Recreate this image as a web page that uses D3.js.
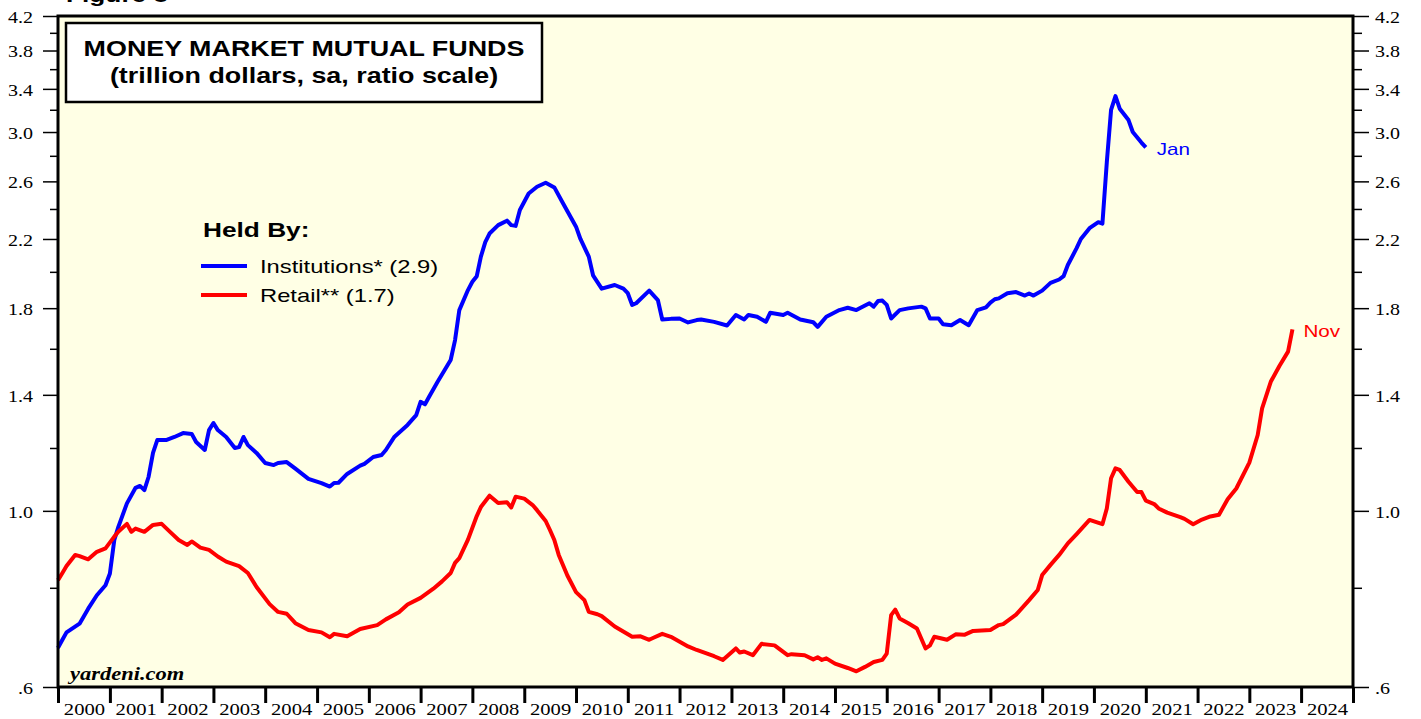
<!DOCTYPE html>
<html>
<head>
<meta charset="utf-8">
<script src="https://cdn.jsdelivr.net/npm/d3@7"></script>
<style>
  body { margin: 0; background: #fff; }
  svg { display: block; }
</style>
</head>
<body>
<svg id="chart" width="1421" height="719"></svg>
<script>
// ---- data (trillion dollars) ----
const instDates = ["2000-01","2000-02","2000-03","2000-06","2000-08","2000-10","2000-12","2001-01","2001-02","2001-03","2001-05","2001-07","2001-08","2001-09","2001-10","2001-11","2001-12",
  "2002-02","2002-04","2002-06","2002-08","2002-09","2002-11","2002-12","2003-01","2003-02","2003-04","2003-06","2003-07","2003-08","2003-09","2003-11",
  "2004-01","2004-03","2004-04","2004-06","2004-08","2004-11","2005-02","2005-04","2005-05","2005-06","2005-08","2005-11","2005-12",
  "2006-02","2006-04","2006-05","2006-07","2006-10","2006-12","2007-01","2007-02","2007-03","2007-05","2007-08","2007-09","2007-10","2007-12",
  "2008-01","2008-02","2008-03","2008-04","2008-05","2008-07","2008-09","2008-10","2008-11","2008-12","2009-02","2009-04","2009-06","2009-08","2009-10",
  "2010-01","2010-02","2010-04","2010-05","2010-07","2010-10","2010-12","2011-01","2011-02","2011-03","2011-06","2011-08","2011-09","2011-11",
  "2012-01","2012-03","2012-05","2012-06","2012-09","2012-12","2013-02","2013-04","2013-05","2013-07","2013-09","2013-10",
  "2014-01","2014-02","2014-05","2014-08","2014-09","2014-11","2015-02","2015-04","2015-06","2015-07","2015-09","2015-10","2015-11","2015-12",
  "2016-01","2016-02","2016-04","2016-06","2016-09","2016-10","2016-11","2017-01","2017-02","2017-04","2017-06","2017-08","2017-10","2017-12",
  "2018-01","2018-02","2018-03","2018-05","2018-07","2018-09","2018-10","2018-11","2019-01","2019-03","2019-05","2019-06","2019-07","2019-09","2019-10","2019-12",
  "2020-02","2020-03","2020-04","2020-05","2020-06","2020-07","2020-09","2020-10","2020-12","2021-01"];
const instValues = [0.672,0.688,0.703,0.721,0.753,0.783,0.806,0.834,0.919,0.954,1.022,1.069,1.075,1.062,1.104,1.183,1.228,
  1.228,1.239,1.253,1.25,1.221,1.193,1.264,1.29,1.264,1.239,1.2,1.203,1.239,1.21,1.183,
  1.149,1.142,1.149,1.152,1.13,1.097,1.084,1.073,1.084,1.085,1.113,1.14,1.146,
  1.169,1.176,1.193,1.24,1.283,1.32,1.372,1.362,1.391,1.454,1.549,1.641,1.79,1.897,
  1.943,1.975,2.09,2.18,2.235,2.29,2.32,2.29,2.285,2.393,2.51,2.56,2.59,2.555,2.44,
  2.28,2.2,2.09,1.98,1.905,1.925,1.905,1.88,1.817,1.826,1.894,1.843,1.742,1.745,
  1.747,1.727,1.739,1.742,1.73,1.712,1.765,1.742,1.765,1.756,1.73,1.776,
  1.765,1.776,1.742,1.728,1.705,1.756,1.79,1.802,1.79,1.802,1.826,1.808,1.838,1.84,
  1.817,1.747,1.79,1.799,1.808,1.799,1.747,1.747,1.718,1.713,1.739,1.713,1.79,1.804,
  1.829,1.847,1.852,1.88,1.886,1.867,1.878,1.867,1.894,1.937,1.956,1.975,2.04,2.142,2.2,2.27,
  2.31,2.3,2.75,3.2,3.33,3.21,3.106,3.0,2.91,2.87];

const retailDates = ["2000-01","2000-02","2000-03","2000-05","2000-06","2000-08","2000-10","2000-12","2001-02","2001-03","2001-05","2001-06","2001-07","2001-09","2001-11",
  "2002-01","2002-03","2002-05","2002-07","2002-08","2002-10","2002-12","2003-02","2003-04","2003-07","2003-09","2003-11",
  "2004-02","2004-04","2004-06","2004-08","2004-11","2005-02","2005-04","2005-05","2005-08","2005-11",
  "2006-03","2006-05","2006-08","2006-10","2007-01","2007-04","2007-06","2007-08","2007-09","2007-10","2007-12",
  "2008-02","2008-03","2008-05","2008-07","2008-09","2008-10","2008-11","2009-01","2009-03","2009-04","2009-06","2009-07","2009-08","2009-09","2009-11",
  "2010-01","2010-03","2010-04","2010-06","2010-07","2010-10","2011-02","2011-04","2011-06","2011-07","2011-09","2011-11",
  "2012-03","2012-05","2012-09","2012-11","2013-02","2013-03","2013-04","2013-06","2013-08","2013-11",
  "2014-02","2014-03","2014-06","2014-08","2014-09","2014-10","2014-11","2015-01","2015-04","2015-06","2015-08","2015-10","2015-12",
  "2016-01","2016-02","2016-03","2016-04","2016-06","2016-08","2016-10","2016-11","2016-12","2017-03","2017-05","2017-07","2017-09",
  "2018-01","2018-03","2018-04","2018-07","2018-10","2018-12","2019-01","2019-03","2019-05","2019-07","2019-09","2019-12",
  "2020-03","2020-04","2020-05","2020-06","2020-07","2020-09","2020-11","2020-12","2021-01","2021-03","2021-04","2021-06","2021-09","2021-10","2021-12",
  "2022-02","2022-04","2022-06","2022-08","2022-10","2023-01","2023-03","2023-04","2023-06","2023-08","2023-10","2023-11"];
const retailValues = [0.818,0.835,0.852,0.88,0.877,0.869,0.888,0.897,0.928,0.941,0.963,0.941,0.95,0.941,0.96,
  0.963,0.941,0.919,0.906,0.915,0.899,0.893,0.876,0.863,0.852,0.835,0.802,
  0.763,0.746,0.742,0.722,0.708,0.703,0.693,0.7,0.695,0.71,
  0.718,0.73,0.745,0.762,0.777,0.798,0.815,0.835,0.86,0.872,0.92,
  0.985,1.011,1.045,1.023,1.025,1.01,1.042,1.036,1.017,1.002,0.971,0.946,0.919,0.88,0.829,
  0.79,0.772,0.746,0.741,0.737,0.715,0.694,0.695,0.688,0.692,0.7,0.694,
  0.675,0.668,0.656,0.649,0.671,0.663,0.665,0.658,0.68,0.677,
  0.658,0.66,0.658,0.65,0.654,0.649,0.652,0.642,0.634,0.628,0.636,0.645,0.649,
  0.661,0.739,0.751,0.732,0.722,0.711,0.671,0.677,0.694,0.688,0.699,0.698,0.706,
  0.708,0.718,0.72,0.74,0.772,0.795,0.83,0.855,0.88,0.91,0.935,0.974,
  0.962,1.007,1.099,1.131,1.126,1.088,1.056,1.056,1.03,1.02,1.007,0.995,0.982,0.977,0.962,
  0.975,0.984,0.989,1.034,1.067,1.15,1.246,1.346,1.454,1.522,1.587,1.693];

const seriesNames = ["Institutions* (2.9)", "Retail** (1.7)"];
const seriesColors = ["#0000ff", "#ff0000"];
const endLabels = ["Jan", "Nov"];
const majorTicks = [0.6, 1.0, 1.4, 1.8, 2.2, 2.6, 3.0, 3.4, 3.8, 4.2];
const minorTicks = [0.8, 1.2, 1.6, 2.0, 2.4, 2.8, 3.2, 3.6, 4.0];
const years = d3.range(2000, 2025);

// ---- layout ----
const SX = 1.25;   // the reference is stretched horizontally
const plotL = 58, plotR = 1353, plotT = 16, plotB = 687;
const sans = "'Liberation Sans', Arial, sans-serif";
const serif = "'Liberation Serif', 'Times New Roman', serif";

const svg = d3.select("#chart");
const parse = d3.timeParse("%Y-%m");

const x = d3.scaleTime()
  .domain([new Date(2000, 0, 1), new Date(2025, 0, 1)])
  .range([plotL, plotR]);
const y = d3.scaleLog().domain([0.6, 4.2]).range([plotB, plotT]);

function label(g, px, py, str, opts) {
  return g.append("text")
    .attr("transform", `translate(${px},${py}) scale(${SX},1)`)
    .attr("font-family", opts.family || sans)
    .attr("font-size", opts.size)
    .attr("font-weight", opts.weight || "normal")
    .attr("font-style", opts.style || "normal")
    .attr("text-anchor", opts.anchor || "start")
    .attr("fill", opts.fill || "#000")
    .text(str);
}

function stretchLabels(sel) {
  sel.selectAll("text").each(function() {
    const t = d3.select(this);
    const tx = +t.attr("x") || 0;
    t.attr("x", tx / SX).attr("transform", `scale(${SX},1)`);
  });
}

// plot background
svg.append("rect")
  .attr("x", plotL).attr("y", plotT)
  .attr("width", plotR - plotL).attr("height", plotB - plotT)
  .attr("fill", "#ffffe5");

// figure heading, cut by the top edge as in the source image
label(svg, 66, 2, "Figure 8", {size: 21, weight: "bold"});

// y axes, left and right
const fmt = d => d < 1 ? ".6" : d3.format(".1f")(d);

const yLeft = svg.append("g").attr("transform", `translate(${plotL},0)`)
  .call(d3.axisLeft(y).tickValues(majorTicks).tickFormat(fmt).tickSize(15).tickPadding(10));
const yLeftMinor = svg.append("g").attr("transform", `translate(${plotL},0)`)
  .call(d3.axisLeft(y).tickValues(minorTicks).tickFormat("").tickSize(8));
const yRight = svg.append("g").attr("transform", `translate(${plotR},0)`)
  .call(d3.axisRight(y).tickValues(majorTicks).tickFormat(fmt).tickSize(16).tickPadding(6));
const yRightMinor = svg.append("g").attr("transform", `translate(${plotR},0)`)
  .call(d3.axisRight(y).tickValues(minorTicks).tickFormat("").tickSize(9));

[yLeft, yLeftMinor, yRight, yRightMinor].forEach(g => {
  g.select(".domain").remove();
  g.selectAll("line").attr("stroke", "#000").attr("stroke-width", 1.5);
  g.selectAll("text").attr("font-family", serif).attr("font-size", 16).attr("fill", "#000").attr("dy", "0.4em");
  stretchLabels(g);
});

// x axis: ticks at year boundaries, labels centred in each year
const xTicks = svg.append("g").attr("transform", `translate(0,${plotB})`)
  .call(d3.axisBottom(x).tickValues(years.concat([2025]).map(yr => new Date(yr, 0, 1))).tickFormat("").tickSize(16));
xTicks.select(".domain").remove();
xTicks.selectAll("line").attr("stroke", "#000").attr("stroke-width", 3);

const xLabels = svg.append("g").attr("transform", `translate(0,${plotB})`)
  .call(d3.axisBottom(x).tickValues(years.map(yr => new Date(yr, 6, 2)))
    .tickFormat(d3.timeFormat("%Y")).tickSize(0).tickPadding(16));
xLabels.select(".domain").remove();
xLabels.selectAll("text").attr("font-family", serif).attr("font-size", 16.5).attr("fill", "#000");
stretchLabels(xLabels);

// series
const line = d3.line()
  .x(d => x(d.date))
  .y(d => y(d.value));

const inst = instDates.map((d, i) => ({date: parse(d), value: instValues[i]}));
const retail = retailDates.map((d, i) => ({date: parse(d), value: retailValues[i]}));
const series = [inst, retail];

svg.append("g").selectAll("path.series")
  .data(series)
  .join("path")
  .attr("class", "series")
  .attr("d", line)
  .attr("fill", "none")
  .attr("stroke", (d, i) => seriesColors[i])
  .attr("stroke-width", 4)
  .attr("stroke-linejoin", "round");

// end labels
series.forEach((s, i) => {
  const last = s[s.length - 1];
  label(svg, x(last.date) + 11, y(last.value) + 8, endLabels[i], {size: 16.5, fill: seriesColors[i]});
});

// plot frame
svg.append("rect")
  .attr("x", plotL).attr("y", plotT)
  .attr("width", plotR - plotL).attr("height", plotB - plotT)
  .attr("fill", "none").attr("stroke", "#000").attr("stroke-width", 3);

// title box
svg.append("rect")
  .attr("x", 66).attr("y", 23).attr("width", 476).attr("height", 79)
  .attr("fill", "#fff").attr("stroke", "#000").attr("stroke-width", 2.5);
label(svg, 304, 56, "MONEY MARKET MUTUAL FUNDS", {size: 21.5, weight: "bold", anchor: "middle"});
label(svg, 304, 83, "(trillion dollars, sa, ratio scale)", {size: 21.5, weight: "bold", anchor: "middle"});

// legend
const legend = svg.append("g");
label(legend, 203, 237, "Held By:", {size: 21, weight: "bold"});
seriesNames.forEach((name, i) => {
  const ly = 266 + i * 29;
  legend.append("line")
    .attr("x1", 201).attr("x2", 247).attr("y1", ly).attr("y2", ly)
    .attr("stroke", seriesColors[i]).attr("stroke-width", 4);
  label(legend, 260, ly + 7, name, {size: 19});
});

// source
label(svg, 70, 680, "yardeni.com", {family: serif, size: 18, weight: "bold", style: "italic"});
</script>
</body>
</html>
